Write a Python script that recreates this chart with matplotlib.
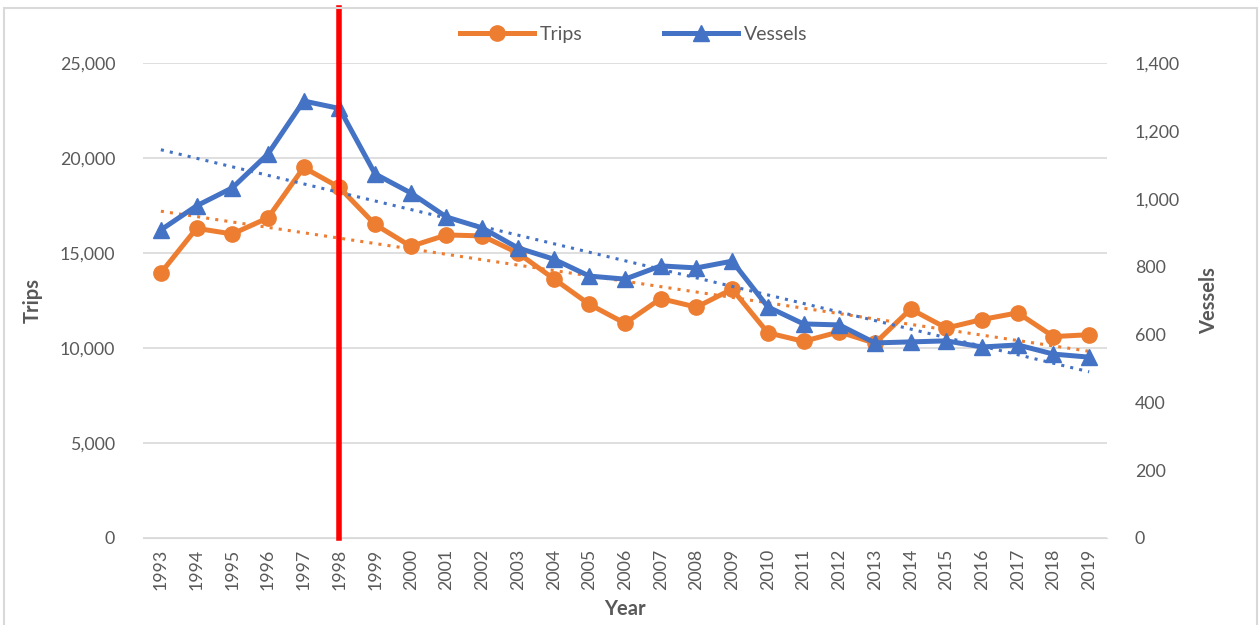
import matplotlib.pyplot as plt
import numpy as np
from matplotlib.patches import Rectangle

years = list(range(1993, 2020))
trips = [13950, 16300, 16000, 16850, 19500, 18450, 16500, 15350, 15950, 15900,
         15000, 13650, 12300, 11300, 12600, 12150, 13100, 10800, 10350, 10850,
         10250, 12050, 11050, 11500, 11850, 10600, 10700]
vessels = [908, 979, 1032, 1132, 1288, 1266, 1073, 1017, 946, 914,
           855, 822, 772, 763, 802, 796, 816, 681, 631, 628,
           575, 578, 581, 563, 569, 542, 533]
trips_ticks = [0, 5000, 10000, 15000, 20000, 25000]
vessel_ticks = [0, 200, 400, 600, 800, 1000, 1200, 1400]

orange = '#ED7D31'
blue = '#4472C4'
gray = '#595959'
plt.rcParams['font.family'] = ['Lato', 'DejaVu Sans']

fig = plt.figure(figsize=(12.6, 6.25), dpi=100)
ax = fig.add_axes([0.1135, 0.1392, 0.7651, 0.76])
ax2 = ax.twinx()

x = np.arange(len(years))

l1, = ax.plot(x, trips, color=orange, lw=3.6, marker='o', ms=11, label='Trips', zorder=3)
l2, = ax2.plot(x, vessels, color=blue, lw=3.6, marker='^', ms=11, label='Vessels', zorder=3)

# linear trend lines
p = np.polyfit(x, trips, 1)
ax.plot(x, np.polyval(p, x), color=orange, lw=2.2, ls=(0, (1, 2.0)), zorder=4)
p2 = np.polyfit(x, vessels, 1)
ax2.plot(x, np.polyval(p2, x), color=blue, lw=2.2, ls=(0, (1, 2.0)), zorder=4)

ax.set_xlim(-0.5, len(years) - 0.5)
ax.set_ylim(0, 25000)
ax2.set_ylim(0, 1400)
ax.set_yticks(trips_ticks)
ax.set_yticklabels([f'{v:,}' for v in trips_ticks])
ax2.set_yticks(vessel_ticks)
ax2.set_yticklabels([f'{v:,}' for v in vessel_ticks])
ax.set_xticks(x)
ax.set_xticklabels([str(y) for y in years], rotation=90)

ax.grid(axis='y', color='#d9d9d9', lw=1.2)
for a in (ax, ax2):
    for s in a.spines.values():
        s.set_visible(False)
    a.tick_params(length=0, colors=gray, labelsize=12.8)
ax.spines['bottom'].set_visible(True)
ax.spines['bottom'].set_color('#d9d9d9')
ax.tick_params(axis='y', pad=20)
ax2.tick_params(axis='y', pad=20)
ax.tick_params(axis='x', pad=8)

ax.set_xlabel('Year', fontsize=14.5, fontweight='bold', color=gray, labelpad=6)
ax.set_ylabel('Trips', fontsize=14.5, fontweight='bold', color=gray, labelpad=12)
ax2.set_ylabel('Vessels', fontsize=14.5, fontweight='bold', color=gray, labelpad=14)

# red reference line at 1998
ax2.axvline(years.index(1998), ymin=0, ymax=1.116, color='red', lw=4, clip_on=False, zorder=5)

fig.legend(handles=[l1, l2], loc='center', bbox_to_anchor=(0.503, 0.945), ncol=2,
           frameon=False, fontsize=14, labelcolor=gray, handlelength=3.8,
           handletextpad=0.3, columnspacing=4.2)

fig.patches.append(Rectangle((0.003, -0.01), 0.995, 0.997, transform=fig.transFigure,
                             fill=False, edgecolor='#d9d9d9', lw=1.5))

fig.savefig('out.png', dpi=100)
